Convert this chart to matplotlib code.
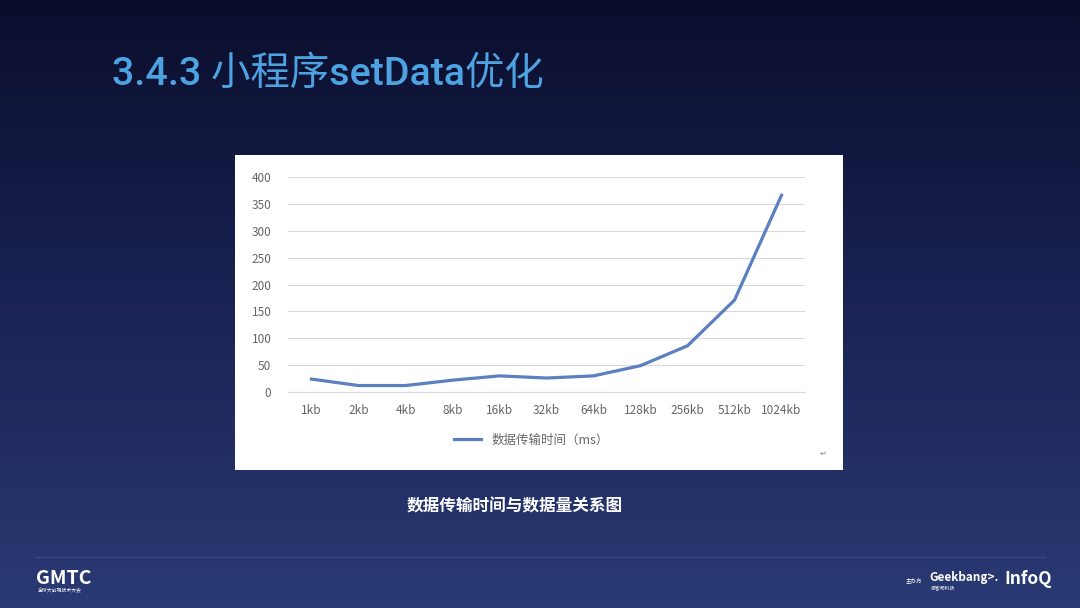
import numpy as np
import matplotlib.pyplot as plt
from matplotlib.patches import Rectangle
from matplotlib.colors import LinearSegmentedColormap

plt.rcParams['font.family'] = ['Noto Sans CJK SC', 'DejaVu Sans']

sizes = ["1kb", "2kb", "4kb", "8kb", "16kb", "32kb", "64kb", "128kb", "256kb", "512kb", "1024kb"]
times = [24, 12, 12, 22, 30, 26, 30, 49, 86, 171, 366]
y_ticks = [0, 50, 100, 150, 200, 250, 300, 350, 400]

W, H = 1080, 608
fig = plt.figure(figsize=(W / 100, H / 100), dpi=100)

# slide background gradient
bg = fig.add_axes([0, 0, 1, 1])
cmap = LinearSegmentedColormap.from_list('slide', ['#0a0e2c', '#1a2354', '#2a3a74'])
grad = np.linspace(0, 1, 256).reshape(-1, 1)
bg.imshow(grad, aspect='auto', cmap=cmap, extent=[0, W, H, 0])
bg.set_xlim(0, W)
bg.set_ylim(H, 0)
bg.axis('off')

# white chart card
bg.add_patch(Rectangle((235, 155), 608, 315, facecolor='white', edgecolor='none'))

bg.text(112, 74, "3.4.3 小程序setData优化", color='#4da3e2', fontsize=28.4,
        fontweight='medium', family=['Roboto', 'Noto Sans CJK SC'],
        va='center', ha='left')
bg.text(515, 506, "数据传输时间与数据量关系图", color='white', fontsize=12,
        fontweight='bold', va='center', ha='center')
bg.plot([35, 1045], [557, 557], color='#3a4a80', linewidth=0.8)
bg.text(36, 578, "GMTC", color='white', fontsize=14, fontweight='bold',
        va='center', ha='left')
bg.text(38, 591, "全球大前端技术大会", color='white', fontsize=3.5, va='center', ha='left')
bg.text(906, 580, "主办方", color='white', fontsize=4, va='center', ha='left')
bg.text(929, 578, "Geekbang>.", color='white', fontsize=8.5, fontweight='bold',
        va='center', ha='left')
bg.text(931, 589, "极客邦科技", color='white', fontsize=3.5, va='center', ha='left')
bg.text(1004, 579, "InfoQ", color='white', fontsize=12.5, fontweight='bold',
        va='center', ha='left')
bg.text(823, 453, "↵", color='#888888', fontsize=6, va='center', ha='center')

# chart
ax = fig.add_axes([288 / W, 1 - 392 / H, (805 - 288) / W, (392 - 177) / H])
x = np.arange(len(sizes))
ax.plot(x, times, color='#5b7fbf', linewidth=2.3, label="数据传输时间（ms）")
ax.set_xlim(-0.5, len(sizes) - 0.5)
ax.set_ylim(0, 400)
ax.set_yticks(y_ticks)
ax.set_xticks(x)
ax.set_xticklabels(sizes)
ax.set_facecolor('none')
ax.grid(axis='y', color='#d9d9d9', linewidth=0.8)
ax.set_axisbelow(True)
for s in ['top', 'right', 'left']:
    ax.spines[s].set_visible(False)
ax.spines['bottom'].set_color('#d9d9d9')
ax.tick_params(length=0, labelsize=8.5, colors='#666666', pad=9)
ax.tick_params(axis='y', pad=12)
ax.legend(loc='upper center', bbox_to_anchor=(0.47, -0.14), frameon=False,
          fontsize=9, handlelength=2.2, labelcolor='#666666')

fig.savefig('out.png', dpi=100)
